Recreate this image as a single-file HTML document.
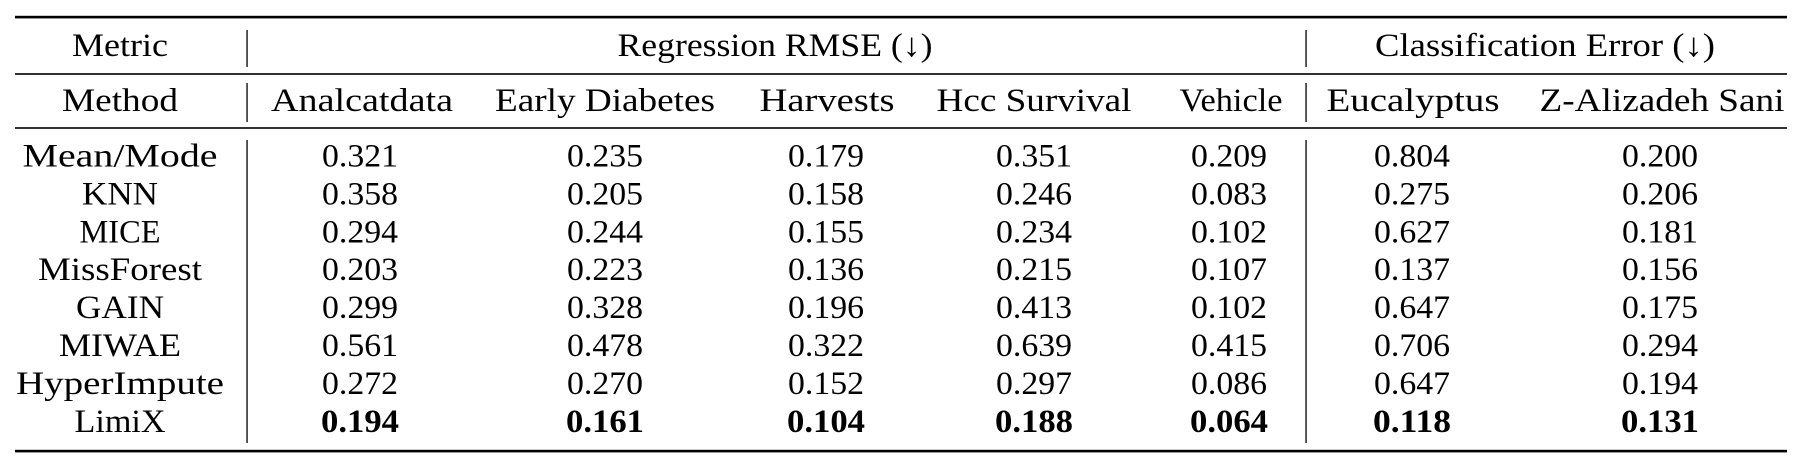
<!DOCTYPE html>
<html>
<head>
<meta charset="utf-8">
<style>
  html, body { margin: 0; padding: 0; background: #ffffff; }
  body { width: 1807px; height: 473px; overflow: hidden; }
  svg { display: block; }
  text { font-family: "Liberation Serif", "DejaVu Serif", serif; font-size: 33px; fill: #000; }
  .b { font-weight: bold; }
</style>
</head>
<body>
<svg width="1807" height="473" viewBox="0 0 1807 473" xmlns="http://www.w3.org/2000/svg">
  <rect x="0" y="0" width="1807" height="473" fill="#ffffff"/>

  <!-- rules -->
  <rect x="15" y="15.8" width="1772" height="2.6" fill="#000"/>
  <rect x="15" y="73.2" width="1772" height="1.6" fill="#000"/>
  <rect x="15" y="127.2" width="1772" height="1.6" fill="#000"/>
  <rect x="15" y="449.8" width="1772" height="2.6" fill="#000"/>

  <!-- vertical bars -->
  <rect x="246.4" y="30" width="1.3" height="37" fill="#000"/>
  <rect x="1305.4" y="30" width="1.3" height="37" fill="#000"/>
  <rect x="246.4" y="83" width="1.3" height="39" fill="#000"/>
  <rect x="1305.4" y="83" width="1.3" height="39" fill="#000"/>
  <rect x="246.4" y="140" width="1.3" height="303" fill="#000"/>
  <rect x="1305.4" y="140" width="1.3" height="303" fill="#000"/>

  <g text-anchor="middle" lengthAdjust="spacingAndGlyphs">
    <!-- header 1 -->
    <text x="120" y="56" textLength="96" lengthAdjust="spacingAndGlyphs">Metric</text>
    <text x="775" y="56" textLength="315" lengthAdjust="spacingAndGlyphs">Regression RMSE (↓)</text>
    <text x="1545" y="56" textLength="340" lengthAdjust="spacingAndGlyphs">Classification Error (↓)</text>

    <!-- header 2 -->
    <text x="120" y="111" textLength="116" lengthAdjust="spacingAndGlyphs">Method</text>
    <text x="362" y="111" textLength="182" lengthAdjust="spacingAndGlyphs">Analcatdata</text>
    <text x="605" y="111" textLength="220" lengthAdjust="spacingAndGlyphs">Early Diabetes</text>
    <text x="827" y="111" textLength="135" lengthAdjust="spacingAndGlyphs">Harvests</text>
    <text x="1034" y="111" textLength="195" lengthAdjust="spacingAndGlyphs">Hcc Survival</text>
    <text x="1231" y="111" textLength="103" lengthAdjust="spacingAndGlyphs">Vehicle</text>
    <text x="1413" y="111" textLength="173" lengthAdjust="spacingAndGlyphs">Eucalyptus</text>
    <text x="1662" y="111" textLength="245" lengthAdjust="spacingAndGlyphs">Z-Alizadeh Sani</text>

    <!-- row labels -->
    <text x="120" y="166.5" textLength="195" lengthAdjust="spacingAndGlyphs">Mean/Mode</text>
    <text x="120" y="204.4" textLength="76" lengthAdjust="spacingAndGlyphs">KNN</text>
    <text x="120" y="242.3" textLength="81" lengthAdjust="spacingAndGlyphs">MICE</text>
    <text x="120" y="280.2" textLength="164" lengthAdjust="spacingAndGlyphs">MissForest</text>
    <text x="120" y="318.1" textLength="88" lengthAdjust="spacingAndGlyphs">GAIN</text>
    <text x="120" y="356.0" textLength="122" lengthAdjust="spacingAndGlyphs">MIWAE</text>
    <text x="120" y="393.9" textLength="208" lengthAdjust="spacingAndGlyphs">HyperImpute</text>
    <text x="120" y="431.8" textLength="91" lengthAdjust="spacingAndGlyphs">LimiX</text>
  </g>

  <!-- data: columns at 360, 605, 826, 1034, 1229, 1412, 1660 -->
  <g text-anchor="middle">
    <!-- Mean/Mode -->
    <g transform="translate(0,166.5)">
      <text x="360" y="0" textLength="76" lengthAdjust="spacingAndGlyphs">0.321</text>
      <text x="605" y="0" textLength="76" lengthAdjust="spacingAndGlyphs">0.235</text>
      <text x="826" y="0" textLength="76" lengthAdjust="spacingAndGlyphs">0.179</text>
      <text x="1034" y="0" textLength="76" lengthAdjust="spacingAndGlyphs">0.351</text>
      <text x="1229" y="0" textLength="76" lengthAdjust="spacingAndGlyphs">0.209</text>
      <text x="1412" y="0" textLength="76" lengthAdjust="spacingAndGlyphs">0.804</text>
      <text x="1660" y="0" textLength="76" lengthAdjust="spacingAndGlyphs">0.200</text>
    </g>
    <!-- KNN -->
    <g transform="translate(0,204.4)">
      <text x="360" y="0" textLength="76" lengthAdjust="spacingAndGlyphs">0.358</text>
      <text x="605" y="0" textLength="76" lengthAdjust="spacingAndGlyphs">0.205</text>
      <text x="826" y="0" textLength="76" lengthAdjust="spacingAndGlyphs">0.158</text>
      <text x="1034" y="0" textLength="76" lengthAdjust="spacingAndGlyphs">0.246</text>
      <text x="1229" y="0" textLength="76" lengthAdjust="spacingAndGlyphs">0.083</text>
      <text x="1412" y="0" textLength="76" lengthAdjust="spacingAndGlyphs">0.275</text>
      <text x="1660" y="0" textLength="76" lengthAdjust="spacingAndGlyphs">0.206</text>
    </g>
    <!-- MICE -->
    <g transform="translate(0,242.3)">
      <text x="360" y="0" textLength="76" lengthAdjust="spacingAndGlyphs">0.294</text>
      <text x="605" y="0" textLength="76" lengthAdjust="spacingAndGlyphs">0.244</text>
      <text x="826" y="0" textLength="76" lengthAdjust="spacingAndGlyphs">0.155</text>
      <text x="1034" y="0" textLength="76" lengthAdjust="spacingAndGlyphs">0.234</text>
      <text x="1229" y="0" textLength="76" lengthAdjust="spacingAndGlyphs">0.102</text>
      <text x="1412" y="0" textLength="76" lengthAdjust="spacingAndGlyphs">0.627</text>
      <text x="1660" y="0" textLength="76" lengthAdjust="spacingAndGlyphs">0.181</text>
    </g>
    <!-- MissForest -->
    <g transform="translate(0,280.2)">
      <text x="360" y="0" textLength="76" lengthAdjust="spacingAndGlyphs">0.203</text>
      <text x="605" y="0" textLength="76" lengthAdjust="spacingAndGlyphs">0.223</text>
      <text x="826" y="0" textLength="76" lengthAdjust="spacingAndGlyphs">0.136</text>
      <text x="1034" y="0" textLength="76" lengthAdjust="spacingAndGlyphs">0.215</text>
      <text x="1229" y="0" textLength="76" lengthAdjust="spacingAndGlyphs">0.107</text>
      <text x="1412" y="0" textLength="76" lengthAdjust="spacingAndGlyphs">0.137</text>
      <text x="1660" y="0" textLength="76" lengthAdjust="spacingAndGlyphs">0.156</text>
    </g>
    <!-- GAIN -->
    <g transform="translate(0,318.1)">
      <text x="360" y="0" textLength="76" lengthAdjust="spacingAndGlyphs">0.299</text>
      <text x="605" y="0" textLength="76" lengthAdjust="spacingAndGlyphs">0.328</text>
      <text x="826" y="0" textLength="76" lengthAdjust="spacingAndGlyphs">0.196</text>
      <text x="1034" y="0" textLength="76" lengthAdjust="spacingAndGlyphs">0.413</text>
      <text x="1229" y="0" textLength="76" lengthAdjust="spacingAndGlyphs">0.102</text>
      <text x="1412" y="0" textLength="76" lengthAdjust="spacingAndGlyphs">0.647</text>
      <text x="1660" y="0" textLength="76" lengthAdjust="spacingAndGlyphs">0.175</text>
    </g>
    <!-- MIWAE -->
    <g transform="translate(0,356.0)">
      <text x="360" y="0" textLength="76" lengthAdjust="spacingAndGlyphs">0.561</text>
      <text x="605" y="0" textLength="76" lengthAdjust="spacingAndGlyphs">0.478</text>
      <text x="826" y="0" textLength="76" lengthAdjust="spacingAndGlyphs">0.322</text>
      <text x="1034" y="0" textLength="76" lengthAdjust="spacingAndGlyphs">0.639</text>
      <text x="1229" y="0" textLength="76" lengthAdjust="spacingAndGlyphs">0.415</text>
      <text x="1412" y="0" textLength="76" lengthAdjust="spacingAndGlyphs">0.706</text>
      <text x="1660" y="0" textLength="76" lengthAdjust="spacingAndGlyphs">0.294</text>
    </g>
    <!-- HyperImpute -->
    <g transform="translate(0,393.9)">
      <text x="360" y="0" textLength="76" lengthAdjust="spacingAndGlyphs">0.272</text>
      <text x="605" y="0" textLength="76" lengthAdjust="spacingAndGlyphs">0.270</text>
      <text x="826" y="0" textLength="76" lengthAdjust="spacingAndGlyphs">0.152</text>
      <text x="1034" y="0" textLength="76" lengthAdjust="spacingAndGlyphs">0.297</text>
      <text x="1229" y="0" textLength="76" lengthAdjust="spacingAndGlyphs">0.086</text>
      <text x="1412" y="0" textLength="76" lengthAdjust="spacingAndGlyphs">0.647</text>
      <text x="1660" y="0" textLength="76" lengthAdjust="spacingAndGlyphs">0.194</text>
    </g>
    <!-- LimiX (bold) -->
    <g transform="translate(0,431.8)" class="b">
      <text class="b" x="360" y="0" textLength="78" lengthAdjust="spacingAndGlyphs">0.194</text>
      <text class="b" x="605" y="0" textLength="78" lengthAdjust="spacingAndGlyphs">0.161</text>
      <text class="b" x="826" y="0" textLength="78" lengthAdjust="spacingAndGlyphs">0.104</text>
      <text class="b" x="1034" y="0" textLength="78" lengthAdjust="spacingAndGlyphs">0.188</text>
      <text class="b" x="1229" y="0" textLength="78" lengthAdjust="spacingAndGlyphs">0.064</text>
      <text class="b" x="1412" y="0" textLength="78" lengthAdjust="spacingAndGlyphs">0.118</text>
      <text class="b" x="1660" y="0" textLength="78" lengthAdjust="spacingAndGlyphs">0.131</text>
    </g>
  </g>
</svg>
</body>
</html>
